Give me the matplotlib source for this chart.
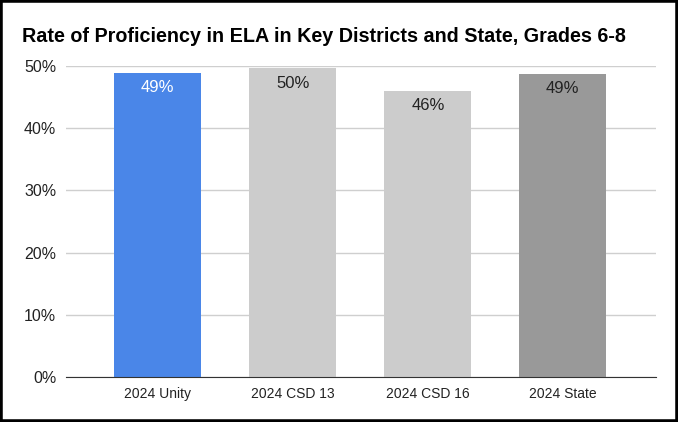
import matplotlib.pyplot as plt
from matplotlib.patches import Rectangle
from matplotlib.ticker import FuncFormatter

plt.rcParams['font.family'] = ['Liberation Sans', 'DejaVu Sans']

categories = ["2024 Unity", "2024 CSD 13", "2024 CSD 16", "2024 State"]
values = [48.9, 49.6, 46.0, 48.7]
labels = ["49%", "50%", "46%", "49%"]
colors = ["#4a86e8", "#cccccc", "#cccccc", "#999999"]
label_colors = ["white", "#222222", "#222222", "#222222"]

fig = plt.figure(figsize=(6.78, 4.22), dpi=100)
ax = fig.add_axes([66 / 678, 1 - 377 / 422, (656 - 66) / 678, (377 - 66) / 422])

x = range(len(categories))
bars = ax.bar(x, values, width=0.645, color=colors, zorder=2)
for b, lab, c in zip(bars, labels, label_colors):
    ax.annotate(lab, (b.get_x() + b.get_width() / 2, b.get_height()),
                xytext=(0, -10.5), textcoords="offset points", ha="center", va="center",
                fontsize=12, color=c)

ax.set_xlim(-0.68, 3.69)
ax.set_ylim(0, 50)
ax.set_yticks(range(0, 51, 10))
ax.yaxis.set_major_formatter(FuncFormatter(lambda v, _: f"{v:.0f}%"))
ax.set_xticks(list(x))
ax.set_xticklabels(categories, fontsize=10, color="#222222")
ax.tick_params(axis="y", labelsize=11.5, length=0, pad=7, labelcolor="#222222")
ax.tick_params(axis="x", length=0, pad=7)
ax.grid(axis="y", color="#cfcfcf", lw=1, zorder=0)
for s in ["top", "right", "left"]:
    ax.spines[s].set_visible(False)
ax.spines["bottom"].set_color("#333333")
ax.spines["bottom"].set_zorder(3)

fig.text(22 / 678, 1 - 36 / 422, "Rate of Proficiency in ELA in Key Districts and State, Grades 6-8",
         fontsize=14.25, fontweight="bold", va="center", ha="left", color="black")

fig.patches.append(Rectangle((0, 0), 1, 1, transform=fig.transFigure, fill=False,
                             edgecolor="black", lw=4, zorder=10))

fig.savefig("out.png", dpi=100)
